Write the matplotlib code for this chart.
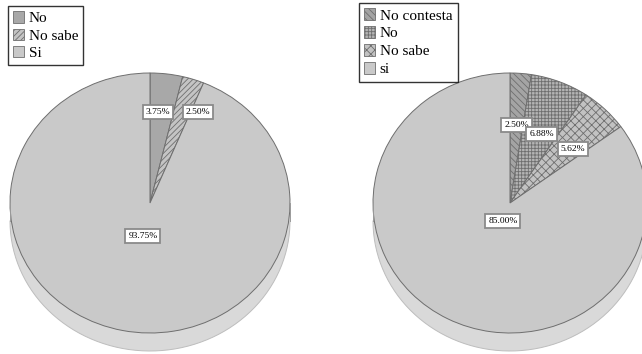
import matplotlib
matplotlib.use("Agg")
import matplotlib.pyplot as plt
import numpy as np
from matplotlib.patches import Rectangle, Patch

plt.rcParams['font.family'] = ['Liberation Serif', 'DejaVu Serif']
plt.rcParams['hatch.linewidth'] = 0.6

# ---- data ----
left_labels = ["No", "No sabe", "Si"]
left_values = [3.75, 2.50, 93.75]
right_labels = ["No contesta", "No", "No sabe", "si"]
right_values = [2.50, 6.88, 5.62, 85.00]

W, H = 642, 354
fig = plt.figure(figsize=(W / 100, H / 100), dpi=100)

EDGE = "#6e6e6e"
SIDE = "#d9d9d9"


def draw_pie(cx, cy, rx, ry, depth, values, faces, hatches, lab_dist, lab_nudge):
    d = depth / ry
    m = 0.02
    left = cx - (1 + m) * rx
    top = cy - (1 + m) * ry
    bottom = cy + (1 + m + d) * ry
    ax = fig.add_axes([left / W, 1 - bottom / H, (2 + 2 * m) * rx / W, (bottom - top) / H])
    # side of the cylinder
    ax.pie(values, colors=[SIDE] * len(values), center=(0, -d), radius=1,
           startangle=90, counterclock=False,
           wedgeprops=dict(edgecolor="none", linewidth=0))
    ax.add_patch(Rectangle((-1, -d), 2, d, facecolor=SIDE, edgecolor="none"))
    t = np.linspace(np.pi, 2 * np.pi, 200)
    ax.plot(np.cos(t), np.sin(t) - d, color="#bdbdbd", lw=0.7)
    ax.plot([-1, -1], [0, -d], color="#9a9a9a", lw=0.7)
    ax.plot([1, 1], [0, -d], color="#9a9a9a", lw=0.7)
    # top face
    wedges, _ = ax.pie(values, colors=faces, startangle=90, counterclock=False,
                       radius=1, wedgeprops=dict(edgecolor=EDGE, linewidth=0.7))
    for w, h in zip(wedges, hatches):
        if h:
            w.set_hatch(h)
    # labels
    total = sum(values)
    start = 90.0
    for v, dist, nud in zip(values, lab_dist, lab_nudge):
        ang = start - 360 * v / total / 2 + nud
        start -= 360 * v / total
        x = dist * np.cos(np.radians(ang))
        y = dist * np.sin(np.radians(ang))
        ax.text(x, y, f"{v:.2f}%", ha="center", va="center", fontsize=6.8,
                bbox=dict(boxstyle="square,pad=0.3", fc="white", ec="#8a8a8a", lw=1.3))
    ax.set_aspect("auto")
    ax.set_xlim(-1 - m, 1 + m)
    ax.set_ylim(-1 - m - d, 1 + m)
    ax.axis("off")
    return wedges


lf = ["#a8a8a8", "#c4c4c4", "#c9c9c9"]
lh = [None, "//////", None]
lw_ = draw_pie(150, 203, 140, 130, 18, left_values, lf, lh,
               [0.70, 0.78, 0.26], [2, -8, 0])

rf = ["#a4a4a4", "#b4b4b4", "#c2c2c2", "#c9c9c9"]
rh = ["\\\\\\\\\\", "+++++", "xxxx", None]
rw_ = draw_pie(510, 203, 137, 130, 18, right_values, rf, rh,
               [0.60, 0.58, 0.62, 0.15], [0, -2, -4, 7])

# legends
def legend(handles_src, labels, x0, y0, spacing):
    hs = [Patch(facecolor=w.get_facecolor(), edgecolor=EDGE, hatch=w.get_hatch(), lw=0.6)
          for w in handles_src]
    lg = fig.legend(hs, labels, loc="upper left", bbox_to_anchor=(x0 / W, 1 - y0 / H),
                    fontsize=11, frameon=True, fancybox=False, edgecolor="black",
                    handlelength=0.7, handleheight=0.8, handletextpad=0.3,
                    labelspacing=spacing, borderpad=0.35, borderaxespad=0)
    lg.get_frame().set_linewidth(1.0)
    return lg

legend(lw_, left_labels, 8, 6, 0.2)
legend(rw_, right_labels, 359, 3, 0.25)

fig.savefig("out.png", dpi=100)
